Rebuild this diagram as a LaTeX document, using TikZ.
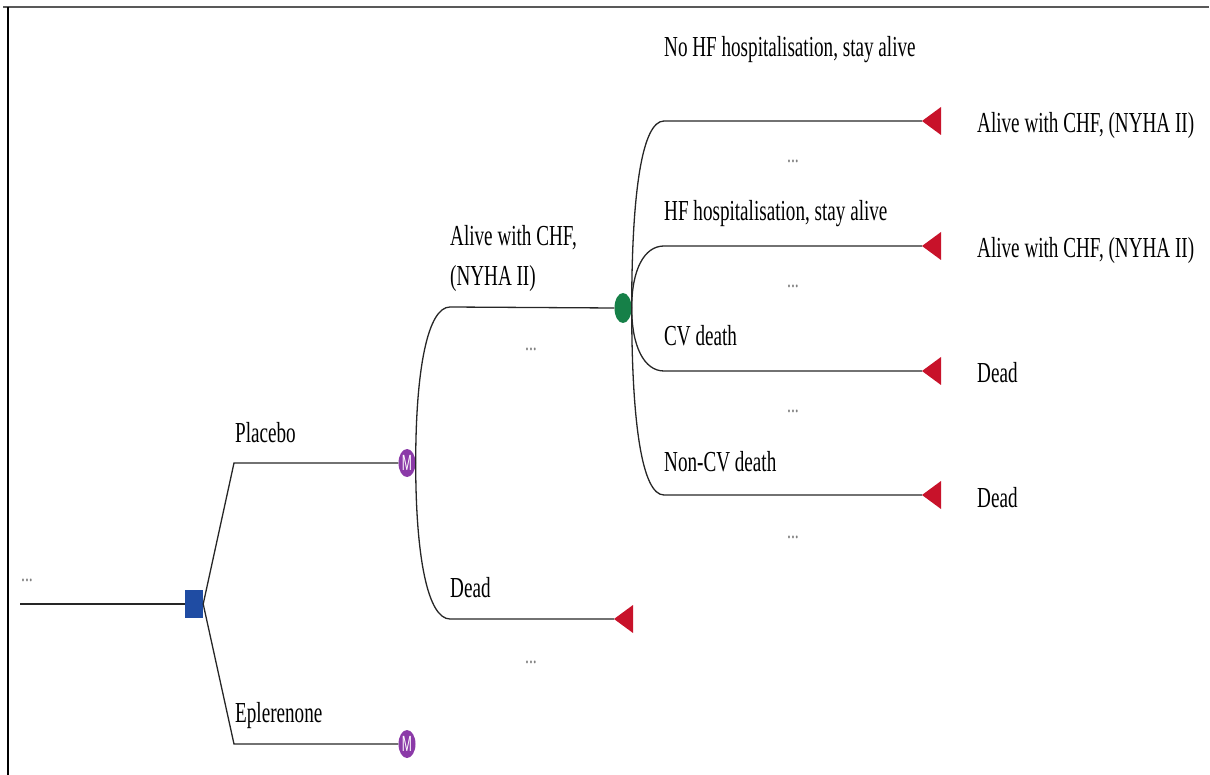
\documentclass[tikz,border=0pt]{standalone}
\usepackage{fontspec}
\setmainfont{Liberation Serif}[FakeStretch=0.66]
\newfontfamily\mfont{Liberation Sans}[FakeStretch=0.55]
\usetikzlibrary{shapes.geometric}

\definecolor{decblue}{RGB}{31,76,163}
\definecolor{markovpurple}{RGB}{139,58,168}
\definecolor{chancegreen}{RGB}{22,128,72}
\definecolor{termred}{RGB}{200,18,42}

\newcommand{\lblfont}{\fontsize{29}{34}\selectfont}
\newcommand{\dotfont}{\fontsize{24}{24}\selectfont}

\tikzset{
  wire/.style={line width=1.3pt, draw=black!85},
  lbl/.style={anchor=base west, inner sep=0pt, font=\lblfont},
  dots/.style={anchor=base, inner sep=0pt, font=\dotfont, text=black!50},
  decbox/.style={rectangle, fill=decblue, minimum width=18pt, minimum height=28pt, inner sep=0pt},
  markov/.style={ellipse, fill=markovpurple, minimum width=17pt, minimum height=28pt,
    inner sep=0pt, text=white, font={\mfont\fontsize{22}{22}\selectfont}},
  chance/.style={ellipse, fill=chancegreen, minimum width=17pt, minimum height=30pt, inner sep=0pt},
  termtri/.style={fill=termred},
}

% a terminal marker: a red triangle whose tip sits on the named coordinate
\newcommand{\terminal}[1]{\fill[termtri] (#1) -- ++(19,-14) -- ++(0,28) -- cycle;}

\begin{document}
\begin{tikzpicture}[x=1pt, y=-1pt]
  \useasboundingbox (0,0) rectangle (1210,775);

  % frame
  \draw[line width=1.6pt, black!65] (3,7) -- (1209,7);
  \draw[line width=1.2pt, black] (8,7) -- (8,775);

  % decision node and its incoming line
  \coordinate (root) at (20,604);
  \node[dots] (rootdots) at (27,581) {...};
  \node[decbox] (dec) at (194,604) {};
  \draw[wire] (root) -- (dec.west);

  % treatment arms
  \coordinate (plc) at (234,463);
  \coordinate (epl) at (234,744);
  \node[markov] (mplc) at (407,463) {M};
  \node[markov] (mepl) at (407,744) {M};
  \draw[wire] (dec.east) -- (plc) -- (mplc.west);
  \draw[wire] (dec.east) -- (epl) -- (mepl.west);
  \node[lbl] (plclbl) at (235,442) {Placebo};
  \node[lbl] (epllbl) at (235,722) {Eplerenone};

  % Markov states under placebo
  \coordinate (alive) at (450,307);
  \coordinate (dead) at (450,619);
  \node[chance] (ch) at (623,308) {};
  \coordinate (deadtip) at (614,619);
  \draw[wire] (mplc.east) to[out=90, in=180, out distance=95pt, in distance=22pt] (alive) -- (ch.west);
  \draw[wire] (mplc.east) to[out=-90, in=180, out distance=95pt, in distance=22pt] (dead) -- (deadtip);
  \terminal{deadtip}
  \node[lbl] (alivetop) at (450,246) {Alive with CHF,};
  \node[lbl] (alivebot) at (450,286) {(NYHA II)};
  \node[lbl] (deadlbl) at (450,597) {Dead};
  \node[dots] (alivedots) at (531,351) {...};
  \node[dots] (deaddots) at (531,663) {...};

  % transitions from the alive state
  \coordinate (b1) at (664,121);
  \coordinate (b2) at (664,246);
  \coordinate (b3) at (664,371);
  \coordinate (b4) at (664,495);
  \coordinate (t1) at (922,121);
  \coordinate (t2) at (922,246);
  \coordinate (t3) at (922,371);
  \coordinate (t4) at (922,495);
  \draw[wire] (ch.east) to[out=90, in=180, out distance=115pt, in distance=22pt] (b1) -- (t1);
  \draw[wire] (ch.east) to[out=90, in=180, out distance=38pt, in distance=20pt] (b2) -- (t2);
  \draw[wire] (ch.east) to[out=-90, in=180, out distance=38pt, in distance=20pt] (b3) -- (t3);
  \draw[wire] (ch.east) to[out=-90, in=180, out distance=115pt, in distance=22pt] (b4) -- (t4);
  \terminal{t1}
  \terminal{t2}
  \terminal{t3}
  \terminal{t4}

  \node[lbl] (l1) at (664,57) {No HF hospitalisation, stay alive};
  \node[lbl] (l2) at (664,221) {HF hospitalisation, stay alive};
  \node[lbl] (l3) at (664,346) {CV death};
  \node[lbl] (l4) at (664,471) {Non-CV death};

  \node[dots] (d1) at (793,163) {...};
  \node[dots] (d2) at (793,288) {...};
  \node[dots] (d3) at (793,413) {...};
  \node[dots] (d4) at (793,538) {...};

  \node[lbl] (e1) at (977,133) {Alive with CHF, (NYHA II)};
  \node[lbl] (e2) at (977,258) {Alive with CHF, (NYHA II)};
  \node[lbl] (e3) at (977,383) {Dead};
  \node[lbl] (e4) at (977,507) {Dead};
\end{tikzpicture}
\end{document}
